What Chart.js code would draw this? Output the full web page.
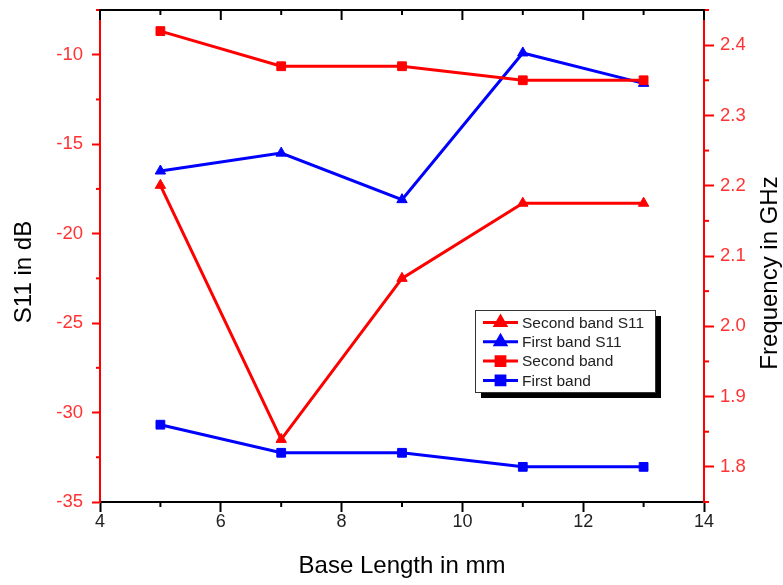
<!DOCTYPE html>
<html><head><meta charset="utf-8">
<script src="https://cdn.jsdelivr.net/npm/chart.js@4.4.1/dist/chart.umd.min.js"></script>
<style>html,body{margin:0;padding:0;background:#fff;overflow:hidden}#wrap{width:783px;height:585px;position:relative}</style>
</head><body><div id="wrap"><canvas id="c" width="783" height="585"></canvas></div>
<script>
const baseLength = [5, 7, 9, 11, 13];
const secondBandS11 = [-17.3, -31.5, -22.5, -18.3, -18.3];
const firstBandS11 = [-16.5, -15.5, -18.1, -9.9, -11.6];
const secondBand = [2.42, 2.37, 2.37, 2.35, 2.35];
const firstBand = [1.86, 1.82, 1.82, 1.80, 1.80];
const xTicks = [4, 6, 8, 10, 12, 14];
const xMinorTicks = [5, 7, 9, 11, 13];
const leftTicks = [-35, -30, -25, -20, -15, -10];
const leftMinorTicks = [-32.5, -27.5, -22.5, -17.5, -12.5, -7.5];
const rightTicks = [1.8, 1.9, 2.0, 2.1, 2.2, 2.3, 2.4];
const rightMinorTicks = [1.75, 1.85, 1.95, 2.05, 2.15, 2.25, 2.35, 2.45];
const seriesNames = ['Second band S11', 'First band S11', 'Second band', 'First band'];
const xTitle = 'Base Length in mm';
const leftTitle = 'S11 in dB';
const rightTitle = 'Frequency in GHz';

const RED = '#ff0000', BLUE = '#0000ff';
const FONT = "'Liberation Sans', Arial, sans-serif";
const pts = (ys) => baseLength.map((x, i) => ({x: x, y: ys[i]}));

const datasets = [
  {label: seriesNames[0], data: pts(secondBandS11), yAxisID: 'y', borderColor: RED, backgroundColor: RED, pointStyle: 'triangle', pointRadius: 6, order: 2},
  {label: seriesNames[1], data: pts(firstBandS11), yAxisID: 'y', borderColor: BLUE, backgroundColor: BLUE, pointStyle: 'triangle', pointRadius: 6, order: 1},
  {label: seriesNames[2], data: pts(secondBand), yAxisID: 'y1', borderColor: RED, backgroundColor: RED, pointStyle: 'rect', pointRadius: 6.2, order: 0},
  {label: seriesNames[3], data: pts(firstBand), yAxisID: 'y1', borderColor: BLUE, backgroundColor: BLUE, pointStyle: 'rect', pointRadius: 6.2, order: 3}
].map(d => Object.assign(d, {borderWidth: 3, pointBorderWidth: 1, pointBorderColor: d.borderColor, tension: 0, fill: false}));

const decor = {
  id: 'decor',
  afterDraw(chart) {
    const ctx = chart.ctx, a = chart.chartArea;
    const sx = chart.scales.x, sy = chart.scales.y, sy1 = chart.scales.y1;
    ctx.save();
    ctx.lineWidth = 2;
    ctx.strokeStyle = '#000';
    xMinorTicks.forEach(v => { const p = sx.getPixelForValue(v); ctx.beginPath(); ctx.moveTo(p, a.bottom); ctx.lineTo(p, a.bottom + 5); ctx.stroke(); });
    ctx.strokeStyle = RED;
    leftMinorTicks.forEach(v => { const p = sy.getPixelForValue(v); ctx.beginPath(); ctx.moveTo(a.left, p); ctx.lineTo(a.left - 4, p); ctx.stroke(); });
    rightMinorTicks.forEach(v => { const p = sy1.getPixelForValue(v); ctx.beginPath(); ctx.moveTo(a.right, p); ctx.lineTo(a.right + 5, p); ctx.stroke(); });
    ctx.strokeStyle = '#000';
    ctx.beginPath(); ctx.moveTo(a.left - 1, a.top); ctx.lineTo(a.right + 1, a.top); ctx.stroke();
    xTicks.concat(xMinorTicks).forEach(v => {
      const p = sx.getPixelForValue(v);
      const len = xTicks.includes(v) ? 10 : 5;
      ctx.beginPath(); ctx.moveTo(p, a.top); ctx.lineTo(p, a.top + len); ctx.stroke();
    });
    ctx.fillStyle = '#000';
    ctx.font = '24px ' + FONT;
    ctx.textAlign = 'center'; ctx.textBaseline = 'middle';
    ctx.fillText(xTitle, (a.left + a.right) / 2, 566);
    ctx.save(); ctx.translate(24, 272); ctx.rotate(-Math.PI / 2); ctx.fillText(leftTitle, 0, 0); ctx.restore();
    ctx.save(); ctx.translate(770, 273); ctx.rotate(-Math.PI / 2); ctx.fillText(rightTitle, 0, 0); ctx.restore();
    const bx = 475, by = 310, bw = 180, bh = 82;
    ctx.fillStyle = '#000'; ctx.fillRect(bx + 6, by + 6, bw, bh);
    ctx.fillStyle = '#fff'; ctx.fillRect(bx, by, bw, bh);
    ctx.lineWidth = 1; ctx.strokeStyle = '#333'; ctx.strokeRect(bx + 0.5, by + 0.5, bw, bh);
    ctx.font = '15.5px ' + FONT; ctx.textAlign = 'left'; ctx.textBaseline = 'middle';
    chart.data.datasets.forEach((d, i) => {
      const y = by + 12.5 + i * 19.3;
      ctx.strokeStyle = d.borderColor; ctx.lineWidth = 3;
      ctx.beginPath(); ctx.moveTo(483, y); ctx.lineTo(518, y); ctx.stroke();
      ctx.fillStyle = d.backgroundColor; ctx.strokeStyle = d.borderColor;
      Chart.helpers.drawPoint(ctx, {pointStyle: d.pointStyle, radius: d.pointRadius, borderWidth: 1, rotation: 0}, 500.5, y);
      ctx.fillStyle = '#222';
      ctx.fillText(d.label, 522, y + 1);
    });
    ctx.restore();
  }
};

const noPad = s => { s.paddingTop = 0; s.paddingBottom = 0; s.paddingLeft = 0; s.paddingRight = 0; };

new Chart(document.getElementById('c'), {
  type: 'line',
  data: {datasets: datasets},
  options: {
    responsive: false, animation: false, devicePixelRatio: 1,
    layout: {padding: {top: 10, left: 0, right: 0, bottom: 0}},
    plugins: {legend: {display: false}, tooltip: {enabled: false}},
    scales: {
      x: {
        type: 'linear', position: 'bottom', min: 4, max: 14,
        afterBuildTicks: s => { s.ticks = xTicks.map(v => ({value: v})); },
        afterFit: s => { s.height = 83; noPad(s); },
        ticks: {color: '#222', font: {family: FONT, size: 18}, padding: -1, maxRotation: 0, autoSkip: false},
        grid: {drawOnChartArea: false, tickLength: 10, tickColor: '#000', tickWidth: 2},
        border: {color: '#000', width: 2}
      },
      y: {
        type: 'linear', position: 'left', min: -35, max: -7.5,
        afterBuildTicks: s => { s.ticks = leftTicks.map(v => ({value: v})); },
        afterFit: s => { s.width = 100; noPad(s); },
        ticks: {color: '#ff3333', font: {family: FONT, size: 18.5}, padding: 9},
        grid: {drawOnChartArea: false, tickLength: 8, tickColor: RED, tickWidth: 2},
        border: {color: RED, width: 2}
      },
      y1: {
        type: 'linear', position: 'right', min: 1.75, max: 2.45,
        afterBuildTicks: s => { s.ticks = rightTicks.map(v => ({value: v})); },
        afterFit: s => { s.width = 79; noPad(s); },
        ticks: {color: '#ff3333', font: {family: FONT, size: 18.5}, padding: 6, callback: v => Number(v).toFixed(1)},
        grid: {drawOnChartArea: false, tickLength: 10, tickColor: RED, tickWidth: 2},
        border: {color: RED, width: 2}
      }
    }
  },
  plugins: [decor]
});
</script></body></html>
